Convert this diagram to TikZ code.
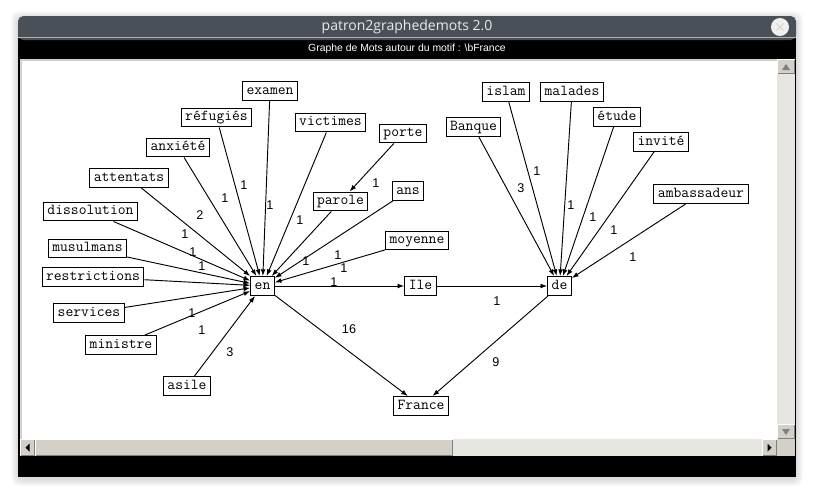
\documentclass[tikz,border=0pt]{standalone}
\usepackage{fontspec}
\usetikzlibrary{arrows.meta}
\newfontfamily\labfont{Liberation Sans}
\newfontfamily\ttlfont{Open Sans}
\definecolor{titlebar}{RGB}{74,80,88}
\definecolor{winbtn}{RGB}{212,208,200}
\definecolor{track}{RGB}{232,230,226}
\tikzset{
  word/.style={draw, line width=0.75pt, fill=white, font=\ttfamily\fontsize{11.4}{13}\selectfont,
    inner xsep=3pt, inner ysep=2.4pt, text height=7.2pt, text depth=2.2pt},
  link/.style={line width=0.7pt, -{Latex[length=5pt,width=3.6pt]}},
  wlab/.style={font=\labfont\fontsize{9.5}{11}\selectfont, inner sep=0pt},
  btn/.style={fill=winbtn},
}
\begin{document}
\begin{tikzpicture}[x=0.75pt,y=-0.75pt]
\useasboundingbox (0,0) rectangle (815,497);
% shadow
\foreach \i in {1,...,7}{
  \fill[black, opacity=0.018, rounded corners=6pt] (18-\i,16-\i+2) rectangle (796+\i,477+\i+2);
}
% window
\fill[black] (18,36) rectangle (796,477);
\fill[titlebar, rounded corners=4pt] (18,16) rectangle (796,40);
\fill[titlebar] (18,30) rectangle (796,37.5);
\draw[gray!60, line width=0.6pt] (18,37.5) -- (796,37.5);
\node[font=\ttlfont\fontsize{10.5}{12}\selectfont, text=white!92!black] (ttl) at (407,27) {patron2graphedemots 2.0};
\node[circle, fill=white!94!black, minimum size=13.5pt, inner sep=0pt] (close) at (780,27) {};
\draw[gray!35, line width=0.6pt] (776.5,23.5) -- (783.5,30.5) (776.5,30.5) -- (783.5,23.5);
\node[font=\labfont\fontsize{7.8}{9}\selectfont, text=white] (sub) at (407,49) {Graphe de Mots autour du motif : \textbackslash bFrance};
% canvas
\fill[winbtn] (20,59) rectangle (777,439);
\fill[white] (22,61) rectangle (777,439);
% vertical scrollbar
\fill[track] (777,59) rectangle (795,439);
\fill[btn] (777,59) rectangle (795,74);
\draw[white, line width=0.75pt] (777.5,73.5) -- (777.5,59.5) -- (794.5,59.5);
\draw[gray, line width=0.75pt] (777.5,73.5) -- (794.5,73.5) -- (794.5,59.5);
\fill[gray] (782,70) -- (790,70) -- (786,64) -- cycle;
\fill[btn] (777,424) rectangle (795,439);
\draw[white, line width=0.75pt] (777.5,438.5) -- (777.5,424.5) -- (794.5,424.5);
\draw[gray, line width=0.75pt] (777.5,438.5) -- (794.5,438.5) -- (794.5,424.5);
\fill[gray] (782,429) -- (790,429) -- (786,435) -- cycle;
% horizontal scrollbar
\fill[track] (20,439) rectangle (777,456);
\fill[btn] (20,439) rectangle (35,456);
\draw[white, line width=0.75pt] (20.5,455.5) -- (20.5,439.5) -- (34.5,439.5);
\draw[gray, line width=0.75pt] (20.5,455.5) -- (34.5,455.5) -- (34.5,439.5);
\fill[black] (29.5,443.5) -- (29.5,451.5) -- (25.5,447.5) -- cycle;
\fill[btn] (35,439) rectangle (453,456);
\draw[white, line width=0.75pt] (35.5,455.5) -- (35.5,439.5) -- (452.5,439.5);
\draw[gray, line width=0.75pt] (35.5,455.5) -- (452.5,455.5) -- (452.5,439.5);
\fill[btn] (762,439) rectangle (777,456);
\draw[white, line width=0.75pt] (762.5,455.5) -- (762.5,439.5) -- (776.5,439.5);
\draw[gray, line width=0.75pt] (762.5,455.5) -- (776.5,455.5) -- (776.5,439.5);
\fill[black] (767.5,443.5) -- (767.5,451.5) -- (771.5,447.5) -- cycle;
\fill[btn] (777,439) rectangle (795,456);

% word nodes
\node[word] (examen) at (270,91) {examen};
\node[word] (refugies) at (216.5,117.5) {réfugiés};
\node[word] (victimes) at (330.5,122.5) {victimes};
\node[word] (porte) at (403,133.5) {porte};
\node[word] (anxiete) at (178,147.5) {anxiété};
\node[word] (attentats) at (129,178) {attentats};
\node[word] (ans) at (408,191) {ans};
\node[word] (parole) at (340.5,201.5) {parole};
\node[word] (dissolution) at (90.5,211.5) {dissolution};
\node[word] (moyenne) at (417,240.5) {moyenne};
\node[word] (musulmans) at (87.5,248.5) {musulmans};
\node[word] (restrictions) at (93,277) {restrictions};
\node[word] (en) at (262.5,286) {en};
\node[word] (Ile) at (420.5,286) {Ile};
\node[word] (de) at (559.5,286) {de};
\node[word] (services) at (89,313) {services};
\node[word] (ministre) at (121,345) {ministre};
\node[word] (asile) at (187,386) {asile};
\node[word] (France) at (421,406) {France};
\node[word] (islam) at (506,92) {islam};
\node[word] (malades) at (572,92) {malades};
\node[word] (Banque) at (473.5,127) {Banque};
\node[word] (etude) at (617,117) {étude};
\node[word] (invite) at (661,142) {invité};
\node[word] (ambassadeur) at (701,194) {ambassadeur};

% connectors
\foreach \s in {examen,refugies,victimes,anxiete,attentats,ans,parole,dissolution,moyenne,musulmans,restrictions,services,ministre,asile}{
  \draw[link] (\s) -- (en);
}
\draw[link] (porte) -- (parole);
\draw[link] (en) -- (Ile);
\draw[link] (Ile) -- (de);
\draw[link] (en) -- (France);
\draw[link] (de) -- (France);
\foreach \s in {Banque,islam,malades,etude,invite,ambassadeur}{
  \draw[link] (\s) -- (de);
}

% weights
\node[wlab] (w1) at (270,205) {1};
\node[wlab] (w2) at (244,185) {1};
\node[wlab] (w3) at (225,198) {1};
\node[wlab] (w4) at (200,215) {2};
\node[wlab] (w5) at (185,234) {1};
\node[wlab] (w6) at (193,252) {1};
\node[wlab] (w7) at (202,266) {1};
\node[wlab] (w8) at (192,313) {1};
\node[wlab] (w9) at (202,330) {1};
\node[wlab] (w10) at (230,352) {3};
\node[wlab] (w11) at (300,220) {1};
\node[wlab] (w12) at (376,183) {1};
\node[wlab] (w13) at (306,261) {1};
\node[wlab] (w14) at (338,255) {1};
\node[wlab] (w15) at (344,268) {1};
\node[wlab] (w16) at (334,282) {1};
\node[wlab] (w17) at (497,301) {1};
\node[wlab] (w18) at (349,329) {16};
\node[wlab] (w19) at (496,362) {9};
\node[wlab] (w20) at (521,188) {3};
\node[wlab] (w21) at (537,171) {1};
\node[wlab] (w22) at (571,205) {1};
\node[wlab] (w23) at (593,217) {1};
\node[wlab] (w24) at (614,230) {1};
\node[wlab] (w25) at (633,257) {1};
\end{tikzpicture}
\end{document}
